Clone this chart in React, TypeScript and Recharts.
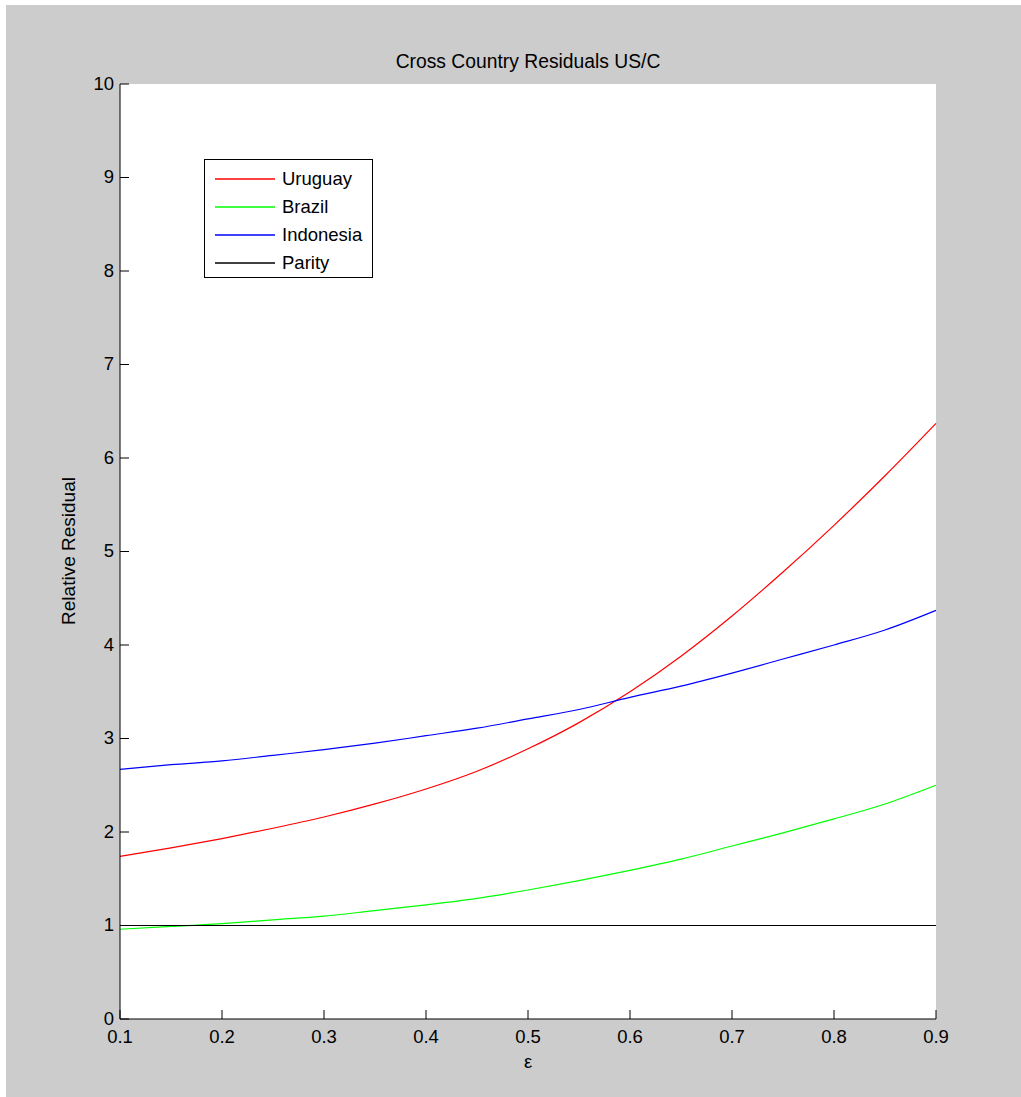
import React from 'react';
import { LineChart, Line, XAxis, YAxis } from 'recharts';

const epsilon = [0.1, 0.15, 0.2, 0.25, 0.3, 0.35, 0.4, 0.45, 0.5, 0.55, 0.6, 0.65, 0.7, 0.75, 0.8, 0.85, 0.9];
const uruguay = [1.74, 1.83, 1.93, 2.04, 2.16, 2.3, 2.46, 2.65, 2.89, 3.17, 3.5, 3.88, 4.31, 4.78, 5.28, 5.81, 6.37];
const brazil = [0.96, 0.99, 1.02, 1.06, 1.1, 1.16, 1.22, 1.29, 1.38, 1.48, 1.59, 1.71, 1.85, 1.99, 2.14, 2.3, 2.5];
const indonesia = [2.67, 2.72, 2.76, 2.82, 2.88, 2.95, 3.03, 3.11, 3.21, 3.31, 3.44, 3.56, 3.7, 3.85, 4.0, 4.16, 4.37];
const parity = [1, 1, 1, 1, 1, 1, 1, 1, 1, 1, 1, 1, 1, 1, 1, 1, 1];

const xTicks = [0.1, 0.2, 0.3, 0.4, 0.5, 0.6, 0.7, 0.8, 0.9];
const yTicks = [0, 1, 2, 3, 4, 5, 6, 7, 8, 9, 10];

const series = [
  { key: 'uruguay', name: 'Uruguay', color: '#ff0000', curve: 'monotone' },
  { key: 'brazil', name: 'Brazil', color: '#00ff00', curve: 'monotone' },
  { key: 'indonesia', name: 'Indonesia', color: '#0000ff', curve: 'monotone' },
  { key: 'parity', name: 'Parity', color: '#000000', curve: 'linear' },
];

const data = epsilon.map((e, i) => ({
  eps: e,
  uruguay: uruguay[i],
  brazil: brazil[i],
  indonesia: indonesia[i],
  parity: parity[i],
}));

const FONT = '"Liberation Sans", Arial, sans-serif';
const FS = 18.5;
const TICK = 9;

const LeftTick = (props: any) => {
  const { x, y, payload } = props;
  return (
    <g>
      <line x1={x} y1={y} x2={x + TICK} y2={y} stroke="#000" />
      <text x={x - 6} y={y - 1} textAnchor="end" dominantBaseline="central" fontSize={FS} fontFamily={FONT} fill="#000">
        {payload.value}
      </text>
    </g>
  );
};

const RightTick = (props: any) => {
  const { x, y } = props;
  return <line x1={x} y1={y} x2={x - TICK} y2={y} stroke="#000" />;
};

const BottomTick = (props: any) => {
  const { x, y, payload } = props;
  return (
    <g>
      <line x1={x} y1={y} x2={x} y2={y - TICK} stroke="#000" />
      <text x={x} y={y + 17} textAnchor="middle" dominantBaseline="central" fontSize={FS} fontFamily={FONT} fill="#000">
        {payload.value.toFixed(1)}
      </text>
    </g>
  );
};

const TopTick = (props: any) => {
  const { x, y } = props;
  return <line x1={x} y1={y} x2={x} y2={y + TICK} stroke="#000" />;
};

export default function App() {
  return (
    <div style={{ position: 'absolute', left: 0, top: 0, width: 1021, height: 1097, background: '#fff' }}>
      <div style={{ position: 'absolute', left: 6, top: 5, right: 0, bottom: 0, background: '#cccccc' }} />
      <div style={{ position: 'absolute', left: 0, top: 0 }}>
        <LineChart width={1021} height={1097} data={data} margin={{ top: 84, right: 85, bottom: 48, left: 60 }}>
          <rect x={120} y={84} width={816} height={935} fill="#fff" />
          <XAxis
            dataKey="eps"
            type="number"
            domain={[0.1, 0.9]}
            ticks={xTicks}
            height={30}
            tickSize={0}
            tickMargin={0}
            tickLine={false}
            axisLine={{ stroke: '#000' }}
            tick={BottomTick}
            interval={0}
          />
          <XAxis
            xAxisId="top"
            orientation="top"
            dataKey="eps"
            type="number"
            domain={[0.1, 0.9]}
            ticks={xTicks}
            height={0}
            tickSize={0}
            tickMargin={0}
            tickLine={false}
            axisLine={{ stroke: '#000' }}
            tick={TopTick}
            interval={0}
          />
          <YAxis
            type="number"
            domain={[0, 10]}
            ticks={yTicks}
            width={60}
            tickSize={0}
            tickMargin={0}
            tickLine={false}
            axisLine={{ stroke: '#000' }}
            tick={LeftTick}
            interval={0}
          />
          <YAxis
            yAxisId="right"
            orientation="right"
            type="number"
            domain={[0, 10]}
            ticks={yTicks}
            width={0}
            tickSize={0}
            tickMargin={0}
            tickLine={false}
            axisLine={{ stroke: '#000' }}
            tick={RightTick}
            interval={0}
          />
          {series.map((s) => (
            <Line
              key={s.key}
              type={s.curve as any}
              dataKey={s.key}
              name={s.name}
              stroke={s.color}
              strokeWidth={1.2}
              dot={false}
              isAnimationActive={false}
            />
          ))}
        </LineChart>
      </div>
      {/* legend box, MATLAB style */}
      <div
        style={{
          position: 'absolute',
          left: 204,
          top: 159,
          width: 169,
          height: 119,
          border: '1px solid #000',
          background: '#fff',
          boxSizing: 'border-box',
          paddingTop: 5,
          fontFamily: FONT,
          fontSize: FS,
        }}
      >
        {series.map((s) => (
          <div key={s.key} style={{ height: 28, display: 'flex', alignItems: 'center' }}>
            <svg width={70} height={4} style={{ display: 'block' }}>
              <line x1={10} y1={2} x2={70} y2={2} stroke={s.color} strokeWidth={1.5} />
            </svg>
            <span style={{ marginLeft: 7, color: '#000' }}>{s.name}</span>
          </div>
        ))}
      </div>
      <div style={{ position: 'absolute', left: 120, width: 816, top: 50, textAlign: 'center', fontFamily: FONT, fontSize: 19.3, lineHeight: '24px' }}>
        Cross Country Residuals US/C
      </div>
      <div style={{ position: 'absolute', left: 120, width: 816, top: 1050, textAlign: 'center', fontFamily: FONT, fontSize: FS, lineHeight: '24px' }}>
        ε
      </div>
      <div
        style={{
          position: 'absolute',
          left: 69,
          top: 551,
          transform: 'translate(-50%, -50%) rotate(-90deg)',
          whiteSpace: 'nowrap',
          fontFamily: FONT,
          fontSize: 19,
          lineHeight: '24px',
        }}
      >
        Relative Residual
      </div>
    </div>
  );
}
